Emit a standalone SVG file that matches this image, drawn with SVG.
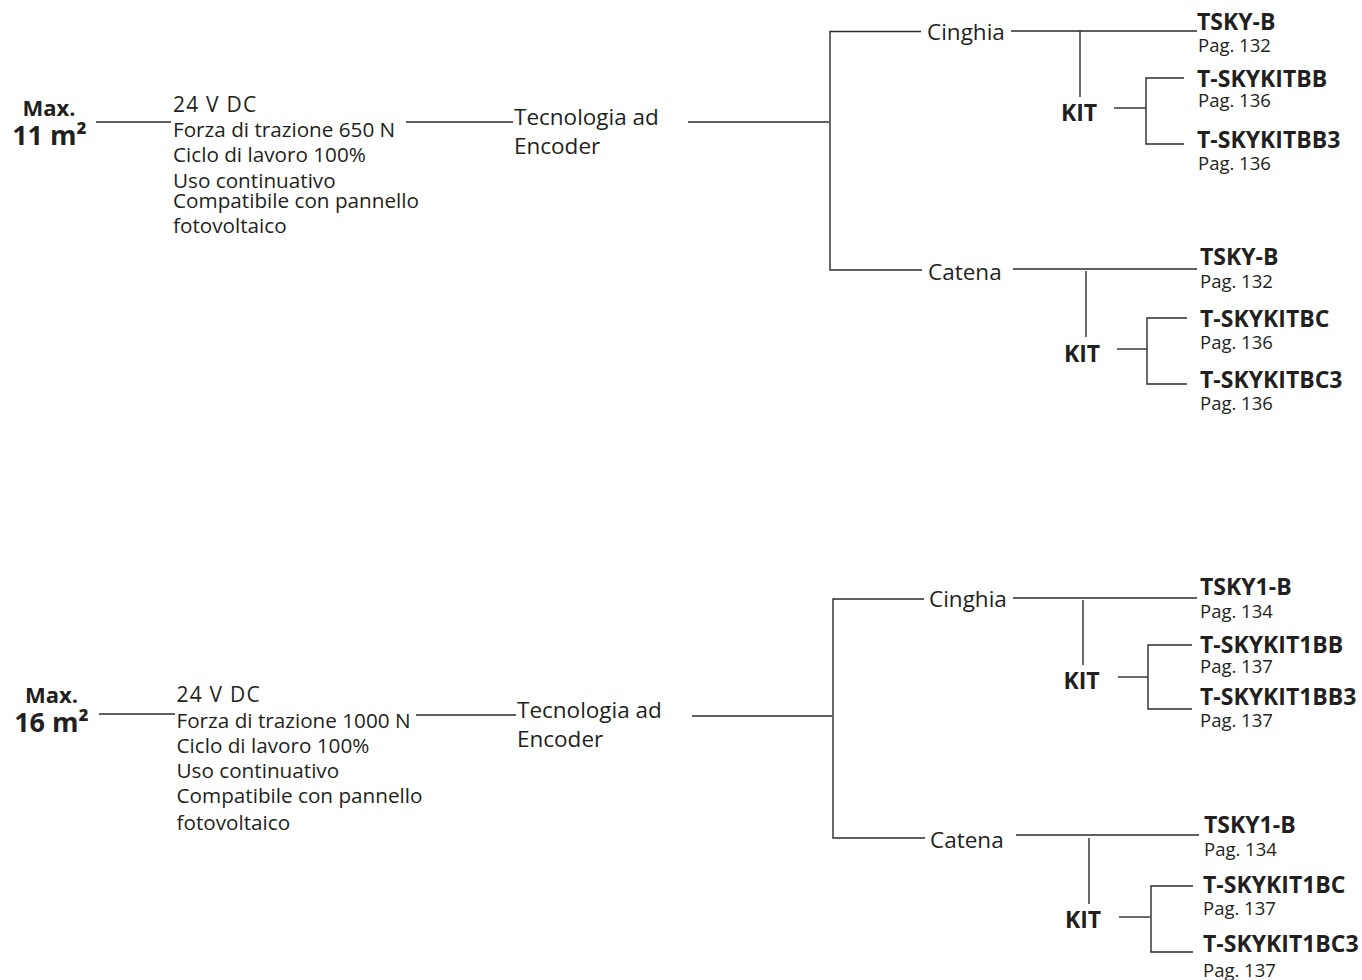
<svg xmlns="http://www.w3.org/2000/svg" width="1362" height="980" viewBox="0 0 1362 980">
<style>
text{font-family:"Open Sans","Noto Sans","Liberation Sans",sans-serif;fill:#231f20}
.b{font-weight:700;font-size:23px}
.mx{font-weight:700;font-size:22px;text-anchor:middle}
.ar{font-weight:700;font-size:27px;text-anchor:middle}
.t{font-size:20.7px}
.v{font-size:21px;letter-spacing:1.2px}
.m{font-size:22.5px}
.p{font-size:18.5px}
.k{font-weight:700;font-size:23px;text-anchor:middle}
.c path{fill:none;stroke:#2b2b2b;stroke-width:1.4}
</style>
<rect width="1362" height="980" fill="#fff"/>
<g class="c" id="connectors">
<path d="M96 122H171"/>
<path d="M406 122H513"/>
<path d="M688 122H829"/>
<path d="M921 31.5H830V270H922"/>
<path d="M1011 31H1197"/>
<path d="M1080 31V97"/>
<path d="M1114 108H1146"/>
<path d="M1184 78H1146V144H1184"/>
<path d="M1013 269H1197"/>
<path d="M1086 271V337"/>
<path d="M1117 349H1147"/>
<path d="M1187 318H1147V384H1187"/>
<path d="M99 714H175"/>
<path d="M416 715H516"/>
<path d="M692 716H832"/>
<path d="M924 599H833V838H925"/>
<path d="M1013 598H1197"/>
<path d="M1083 600V665"/>
<path d="M1118 677H1148"/>
<path d="M1192 645H1148V709H1192"/>
<path d="M1016 835H1199"/>
<path d="M1089 838V904"/>
<path d="M1119 917H1150"/>
<path d="M1193 886H1151V952H1193"/>
</g>
<g id="area1"><text class="mx" x="49" y="116">Max.</text><text class="ar" x="49.5" y="145">11 m²</text></g>
<g id="spec1">
<text class="v" x="173" y="112">24 V DC</text>
<text class="t" x="173" y="137">Forza di trazione 650 N</text>
<text class="t" x="173" y="162">Ciclo di lavoro 100%</text>
<text class="t" x="173" y="188">Uso continuativo</text>
<text class="t" x="173" y="208">Compatibile con pannello</text>
<text class="t" x="173" y="233">fotovoltaico</text>
</g>
<g id="tech1"><text class="m" x="514" y="125">Tecnologia ad</text><text class="m" x="514" y="154">Encoder</text></g>
<g id="cinghia1"><text class="m" x="927" y="40">Cinghia</text></g>
<g id="catena1"><text class="m" x="928" y="280">Catena</text></g>
<g id="tskyb1"><text class="b" x="1197" y="30">TSKY-B</text><text class="p" x="1198" y="52">Pag. 132</text></g>
<g id="kit1"><text class="k" x="1079" y="121">KIT</text></g>
<g id="kitbb"><text class="b" x="1197" y="87">T-SKYKITBB</text><text class="p" x="1198" y="107">Pag. 136</text></g>
<g id="kitbb3"><text class="b" x="1197" y="148">T-SKYKITBB3</text><text class="p" x="1198" y="170">Pag. 136</text></g>
<g id="tskyb2"><text class="b" x="1200" y="265">TSKY-B</text><text class="p" x="1200" y="288">Pag. 132</text></g>
<g id="kit2"><text class="k" x="1082" y="362">KIT</text></g>
<g id="kitbc"><text class="b" x="1200" y="327">T-SKYKITBC</text><text class="p" x="1200" y="349">Pag. 136</text></g>
<g id="kitbc3"><text class="b" x="1200" y="388">T-SKYKITBC3</text><text class="p" x="1200" y="410">Pag. 136</text></g>
<g id="area2"><text class="mx" x="51.5" y="703">Max.</text><text class="ar" x="51.5" y="732">16 m²</text></g>
<g id="spec2">
<text class="v" x="176.5" y="702">24 V DC</text>
<text class="t" x="176.5" y="728">Forza di trazione 1000 N</text>
<text class="t" x="176.5" y="753">Ciclo di lavoro 100%</text>
<text class="t" x="176.5" y="778">Uso continuativo</text>
<text class="t" x="176.5" y="803">Compatibile con pannello</text>
<text class="t" x="176.5" y="830">fotovoltaico</text>
</g>
<g id="tech2"><text class="m" x="517" y="718">Tecnologia ad</text><text class="m" x="517" y="747">Encoder</text></g>
<g id="cinghia2"><text class="m" x="929" y="607">Cinghia</text></g>
<g id="catena2"><text class="m" x="930" y="848">Catena</text></g>
<g id="tsky1b1"><text class="b" x="1200" y="595">TSKY1-B</text><text class="p" x="1200" y="618">Pag. 134</text></g>
<g id="kit3"><text class="k" x="1081.5" y="689">KIT</text></g>
<g id="kit1bb"><text class="b" x="1200" y="653">T-SKYKIT1BB</text><text class="p" x="1200" y="673">Pag. 137</text></g>
<g id="kit1bb3"><text class="b" x="1200" y="705">T-SKYKIT1BB3</text><text class="p" x="1200" y="727">Pag. 137</text></g>
<g id="tsky1b2"><text class="b" x="1204" y="833">TSKY1-B</text><text class="p" x="1204" y="856">Pag. 134</text></g>
<g id="kit4"><text class="k" x="1083" y="928">KIT</text></g>
<g id="kit1bc"><text class="b" x="1203" y="893">T-SKYKIT1BC</text><text class="p" x="1203" y="915">Pag. 137</text></g>
<g id="kit1bc3"><text class="b" x="1203" y="952">T-SKYKIT1BC3</text><text class="p" x="1203" y="977">Pag. 137</text></g>
</svg>
